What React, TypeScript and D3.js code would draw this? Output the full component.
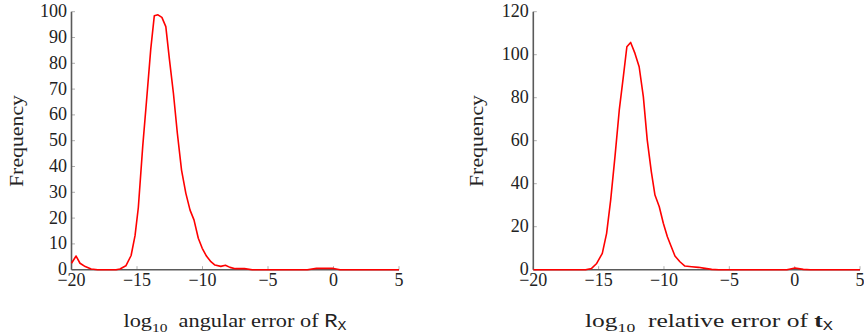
import React from "react";
import * as d3 from "d3";

const leftX = [-20, -19.65, -19.35, -18.95, -18.5, -18, -16.6, -16.3, -15.85, -15.45, -15.15, -14.9, -14.56, -14.28, -13.95, -13.68, -13.4, -13.1, -12.8, -12.52, -12.22, -11.92, -11.6, -11.27, -10.95, -10.65, -10.32, -10.02, -9.7, -9.36, -9.05, -8.6, -8.25, -7.9, -7.5, -6.8, -6.2, -2, -1.3, 0, 0.5, 5];
const leftY = [2.5, 5.3, 2.5, 1.2, 0.3, 0, 0, 0.3, 1.5, 5.5, 13.2, 24, 48, 65, 85.5, 98.4, 98.8, 97.8, 94.2, 81.3, 68.4, 52.9, 38.6, 29.6, 23.1, 19.3, 12.2, 8.3, 5.3, 3.1, 1.8, 1.3, 1.7, 0.9, 0.4, 0.4, 0, 0, 0.5, 0.5, 0, 0];

const rightX = [-20, -16, -15.54, -15.15, -14.72, -14.39, -14.08, -13.75, -13.42, -13.11, -12.84, -12.55, -12.22, -11.9, -11.58, -11.28, -10.97, -10.69, -10.36, -10.05, -9.74, -9.44, -9.16, -8.78, -8.4, -7.88, -7.37, -6.86, -6.35, -5.8, -0.6, 0.03, 0.66, 1.2, 5];
const rightY = [0, 0, 0.6, 2.9, 7.6, 16.9, 32.4, 52.6, 74.3, 89.8, 103.7, 105.7, 100.6, 94.4, 80.5, 60.3, 45.6, 34.7, 29.3, 21.6, 15.3, 10.7, 6.4, 3.7, 1.7, 1.4, 1.1, 0.6, 0.15, 0, 0, 0.8, 0.15, 0, 0];

const xTicks = [-20, -15, -10, -5, 0, 5];
const leftYTicks = [0, 10, 20, 30, 40, 50, 60, 70, 80, 90, 100];
const rightYTicks = [0, 20, 40, 60, 80, 100, 120];

const SERIF = "Liberation Serif";
const MONO = "Liberation Mono";
const AXIS = "#5a5a5a";
const TICK = "#9a9a9a";

type PanelProps = {
  xs: number[];
  ys: number[];
  yTicks: number[];
  yMax: number;
  x0: number;
  x1: number;
  labelX: number;
  labelW: number;
  yLabelX: number;
  kind: "R" | "t";
};

function Panel({ xs, ys, yTicks, yMax, x0, x1, labelX, labelW, yLabelX, kind }: PanelProps) {
  const top = 11.7;
  const bottom = 269.7;
  const x = d3.scaleLinear().domain([-20, 5]).range([x0, x1]);
  const y = d3.scaleLinear().domain([0, yMax]).range([bottom, top]);
  const pts: [number, number][] = xs.map((v, i) => [v, ys[i]]);
  const line = d3
    .line<[number, number]>()
    .x((d) => x(d[0]))
    .y((d) => y(d[1]))
    .curve(d3.curveLinear);
  const fs = 18;
  const txt = { fontFamily: SERIF, fontSize: fs, fill: "#222" } as React.CSSProperties;
  const lab = { fontFamily: SERIF, fontSize: 19.5, fill: "#222" } as React.CSSProperties;
  return (
    <g>
      {xTicks.map((t) => (
        <line key={"xt" + t} x1={x(t)} x2={x(t)} y1={bottom} y2={bottom - 3.5} stroke={TICK} strokeWidth={0.8} />
      ))}
      {yTicks.map((t) => (
        <line key={"yt" + t} x1={x0} x2={x0 + 3.5} y1={y(t)} y2={y(t)} stroke={TICK} strokeWidth={0.8} />
      ))}
      <line x1={x0} x2={x0} y1={top} y2={bottom} stroke={AXIS} strokeWidth={1.6} />
      <line x1={x0} x2={x1} y1={bottom} y2={bottom} stroke={AXIS} strokeWidth={1.6} />
      <path d={line(pts) || ""} fill="none" stroke="#ff0000" strokeWidth={1.6} strokeLinejoin="round" />
      {xTicks.map((t) => (
        <text key={"xl" + t} x={x(t)} y={286} textAnchor="middle" style={txt}>
          {t < 0 ? "\u2212" + Math.abs(t) : String(t)}
        </text>
      ))}
      {yTicks.map((t) => (
        <text key={"yl" + t} x={x0 - 4.5} y={y(t) + 5.5} textAnchor="end" style={txt}>
          {t}
        </text>
      ))}
      <text
        transform={`translate(${yLabelX},141) rotate(-90)`}
        textAnchor="middle"
        style={lab}
        textLength={92}
        lengthAdjust="spacingAndGlyphs"
      >
        Frequency
      </text>
      <text
        x={labelX}
        y={326.5}
        textAnchor="middle"
        style={lab}
        textLength={labelW}
        lengthAdjust="spacingAndGlyphs"
      >
        log
        <tspan style={{ fontSize: 13.5 }} dy={5}>10</tspan>
        <tspan dy={-5}>{kind === "R" ? "\u2002angular error of " : "\u2002relative error of "}</tspan>
        {kind === "R" ? (
          <tspan style={{ fontFamily: MONO }}>R</tspan>
        ) : (
          <tspan style={{ fontWeight: "bold" }}>t</tspan>
        )}
        <tspan style={{ fontFamily: MONO, fontSize: 13 }} dy={3}>X</tspan>
      </text>
    </g>
  );
}

export default function App() {
  return (
    <svg
      width={864}
      height={336}
      viewBox="0 0 864 336"
      style={{ position: "fixed", left: 0, top: 0, background: "#fff" }}
    >
      <rect width={864} height={336} fill="#fff" />
      <Panel xs={leftX} ys={leftY} yTicks={leftYTicks} yMax={100} x0={71.5} x1={399} labelX={235} labelW={223} yLabelX={23} kind="R" />
      <Panel xs={rightX} ys={rightY} yTicks={rightYTicks} yMax={120} x0={533.3} x1={860} labelX={709} labelW={248} yLabelX={483} kind="t" />
    </svg>
  );
}
